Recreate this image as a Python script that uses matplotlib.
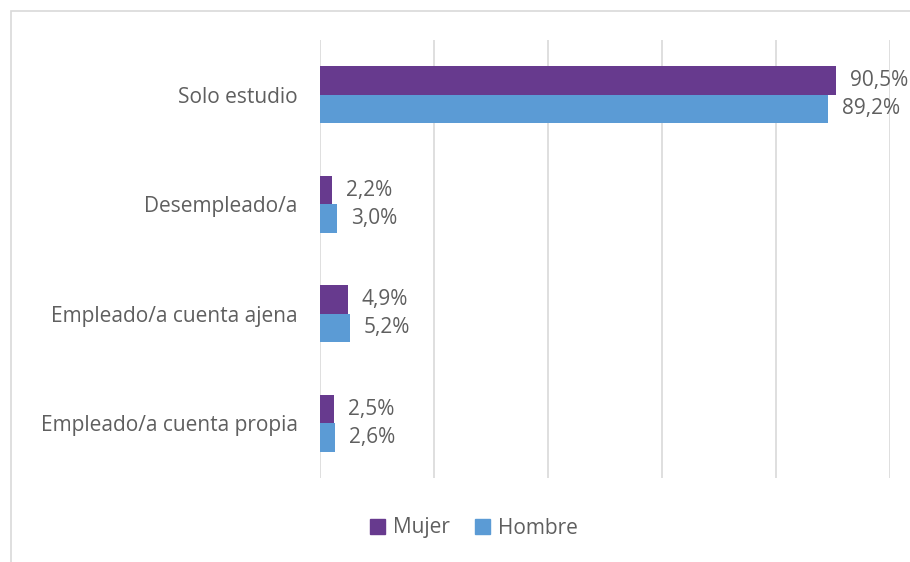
import matplotlib.pyplot as plt
from matplotlib.patches import Rectangle, Patch
import numpy as np

plt.rcParams['font.family'] = ['Open Sans', 'DejaVu Sans']

categorias = ["Solo estudio", "Desempleado/a", "Empleado/a cuenta ajena", "Empleado/a cuenta propia"]
mujer = [90.5, 2.2, 4.9, 2.5]
hombre = [89.2, 3.0, 5.2, 2.6]

MORADO = "#673A8E"
AZUL = "#5B9BD5"
GRIS = "#5F5F5F"
FS = 15

fig = plt.figure(figsize=(9.1, 5.62), dpi=100)
ax = fig.add_axes([0.3516, 0.1495, 0.6264, 0.7793])

# marco del grafico
fig.patches.append(Rectangle((11 / 910, -0.1), 1.1, 1 - 11 / 562 + 0.1,
                             transform=fig.transFigure, fill=False,
                             edgecolor="#D9D9D9", linewidth=1.2))

y = np.arange(len(categorias))
h = 0.26
b1 = ax.barh(y - h / 2, mujer, height=h, color=MORADO, label="Mujer")
b2 = ax.barh(y + h / 2, hombre, height=h, color=AZUL, label="Hombre")

for barras in (b1, b2):
    for rect in barras:
        v = rect.get_width()
        ax.annotate(f"{v:.1f}%".replace(".", ","),
                    (v, rect.get_y() + rect.get_height() / 2),
                    xytext=(10, 0), textcoords="offset points",
                    va="center", ha="left", fontsize=FS, color=GRIS)

ax.set_xlim(0, 100)
ax.set_ylim(len(categorias) - 0.5, -0.5)
ax.set_xticks(range(0, 101, 20))
ax.set_xticklabels([])
ax.set_yticks(y)
ax.set_yticklabels(categorias, fontsize=FS, color=GRIS)
ax.tick_params(axis="both", length=0, pad=16)
ax.grid(axis="x", color="#D9D9D9", linewidth=1.2)
ax.set_axisbelow(True)
for s in ax.spines.values():
    s.set_visible(False)

fig.legend(handles=[Patch(color=MORADO, label="Mujer"), Patch(color=AZUL, label="Hombre")],
           loc="center", bbox_to_anchor=(474 / 910, 1 - 528 / 562), ncol=2,
           frameon=False, fontsize=FS, labelcolor=GRIS,
           handlelength=0.7, handleheight=0.7, handletextpad=0.4, columnspacing=1.2)

fig.savefig("out.png", dpi=100)
